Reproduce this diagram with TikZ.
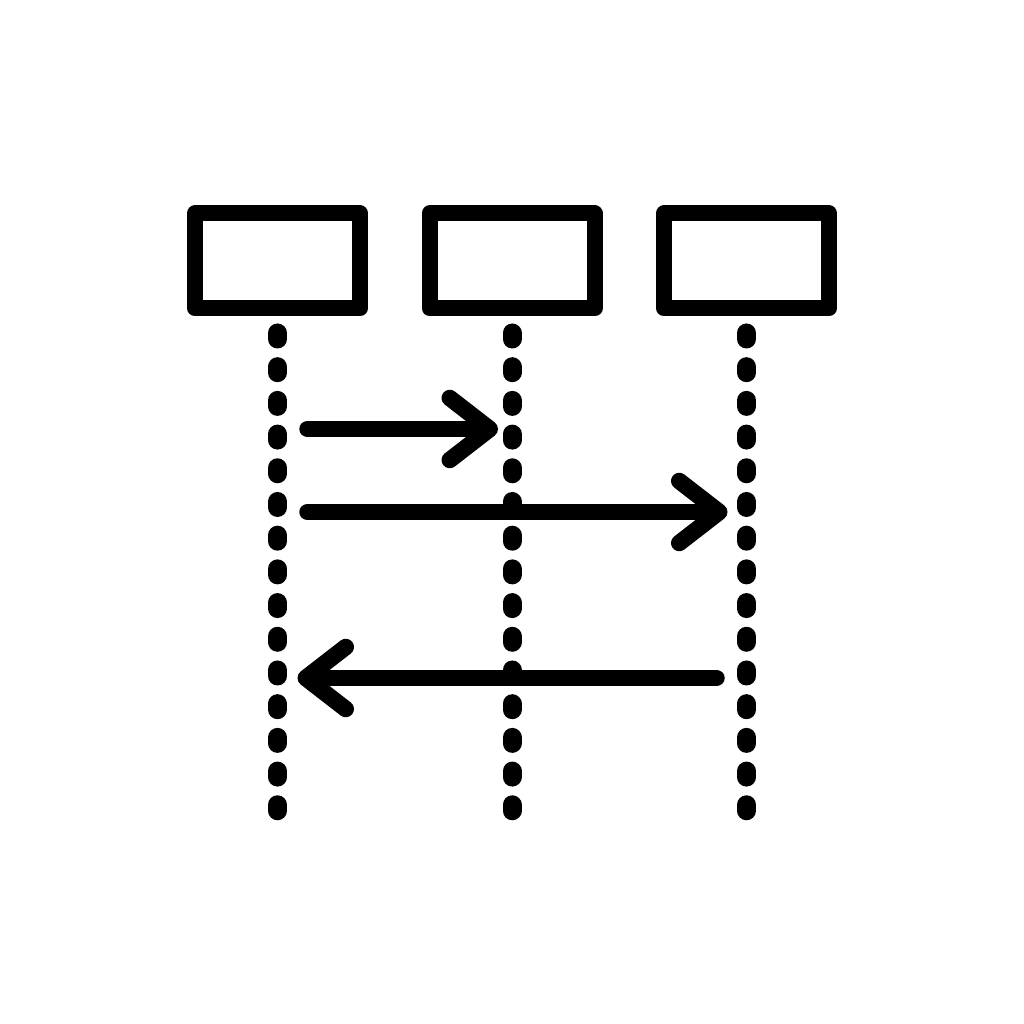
\documentclass[tikz,border=0pt]{standalone}
\usetikzlibrary{positioning,arrows.meta}

\tikzset{
  actor/.style={draw, line width=0.16cm, line join=round, minimum width=1.65cm,
    minimum height=0.95cm, inner sep=0pt, outer sep=0pt},
  lifeline/.style={line width=0.19cm, line cap=round, dash pattern=on 0.06cm off 0.277cm},
  msg/.style={line width=0.165cm, line cap=round, line join=round,
    -{Straight Barb[length=0.4cm, width=0.62cm, line cap=round, line join=round]},
    shorten <=0.3cm}
}

\begin{document}
\begin{tikzpicture}

	\useasboundingbox (0,0) rectangle (10.24,10.24);

	% participants
	\node[actor] (alice) at (2.775,7.63) {};
	\node[actor, right=0.695cm of alice] (bob) {};
	\node[actor, right=0.695cm of bob] (carol) {};

	% lifelines
	\draw[lifeline] ([yshift=-0.245cm]alice.south) -- ++(0,-4.78) coordinate (aliceend);
	\draw[lifeline] ([yshift=-0.245cm]bob.south) -- ++(0,-4.78) coordinate (bobend);
	\draw[lifeline] ([yshift=-0.245cm]carol.south) -- ++(0,-4.78) coordinate (carolend);

	% message rows
	\coordinate (row1) at (0,5.95);
	\coordinate (row2) at (0,5.12);
	\coordinate (row3) at (0,3.46);

	% messages
	\draw[msg, shorten >=0.14cm] (alice |- row1) -- (bob |- row1);
	\draw[msg, shorten >=0.19cm] (alice |- row2) -- (carol |- row2);
	\draw[msg, shorten >=0.2cm] (carol |- row3) -- (alice |- row3);

\end{tikzpicture}
\end{document}
